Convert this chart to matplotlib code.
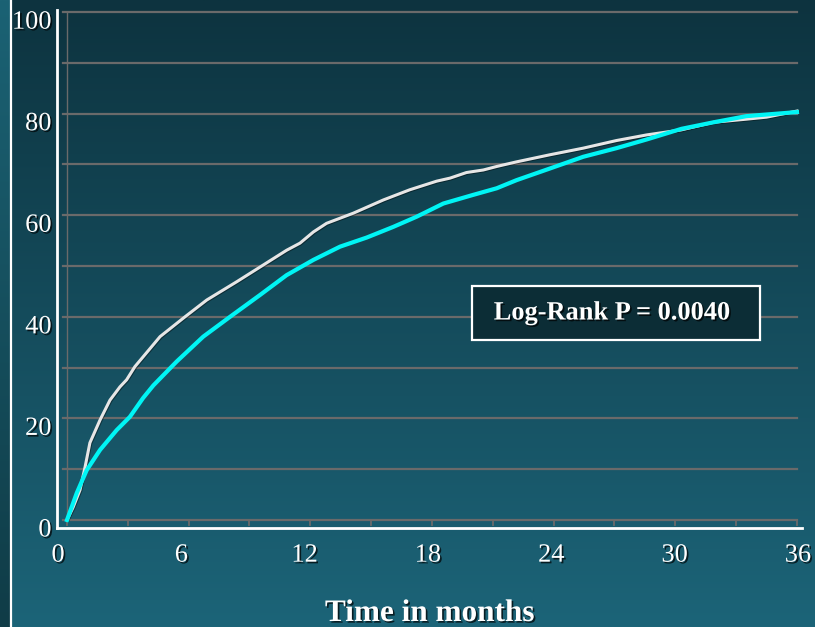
import numpy as np
import matplotlib
matplotlib.use("Agg")
import matplotlib.pyplot as plt
import matplotlib.patheffects as pe
from matplotlib.patches import Rectangle

# ---- data ----
white_t = [0.0, 0.3, 0.64, 0.89, 1.13, 1.63, 2.12, 2.61, 2.94, 3.35, 4.59, 5.82, 6.89, 8.37,
           9.68, 10.83, 11.49, 12.15, 12.8, 14.12, 15.6, 16.9, 18.23, 18.89, 19.7, 20.53,
           21.2, 22.17, 23.82, 25.46, 27.1, 28.58, 30.3, 31.9, 33.5, 34.5, 36.0]
white_y = [0.0, 2.5, 5.9, 10.4, 15.2, 19.7, 23.6, 26.2, 27.6, 30.2, 36.1, 40.0, 43.3, 46.9,
           50.2, 53.1, 54.5, 56.7, 58.4, 60.4, 63.0, 65.0, 66.7, 67.3, 68.4, 68.9,
           69.6, 70.5, 71.9, 73.2, 74.7, 75.8, 76.8, 78.3, 78.9, 79.3, 80.5]

cyan_t = [0.0, 0.48, 0.97, 1.63, 2.45, 3.1, 3.75, 4.26, 5.41, 6.72, 8.04, 9.52, 10.83,
          12.15, 13.46, 14.78, 16.09, 17.24, 18.56, 20.03, 21.19, 22.17, 23.82, 25.46,
          27.1, 28.58, 30.3, 31.9, 33.5, 36.0]
cyan_y = [0.0, 5.3, 9.8, 13.8, 17.7, 20.3, 24.0, 26.5, 31.2, 36.1, 40.0, 44.3, 48.2,
          51.2, 53.8, 55.6, 57.7, 59.7, 62.3, 64.0, 65.3, 66.9, 69.2, 71.5,
          73.2, 74.9, 77.0, 78.3, 79.5, 80.3]

x_ticks = [0, 6, 12, 18, 24, 30, 36]
y_ticks = [0, 20, 40, 60, 80, 100]
x_label = "Time in months"
annot = "Log-Rank P = 0.0040"

W, H = 815, 627
fig = plt.figure(figsize=(W / 100, H / 100), dpi=100)

# ---- background gradient ----
bg = fig.add_axes([0, 0, 1, 1], zorder=-10)
bg.set_axis_off()
top = np.array([0x0d, 0x33, 0x3f]) / 255
bot = np.array([0x1c, 0x64, 0x78]) / 255
g = np.linspace(0, 1, 256)[:, None]
main = top[None, :] * (1 - g) + bot[None, :] * g
img = np.repeat(main[:, None, :], 2, axis=1)
bg.imshow(img, aspect="auto", extent=[0, 1, 0, 1], origin="upper")
strip_top = np.array([0x1b, 0x62, 0x74]) / 255
strip_bot = np.array([0x10, 0x3c, 0x47]) / 255
strip = strip_top[None, :] * (1 - g) + strip_bot[None, :] * g
bg.imshow(np.repeat(strip[:, None, :], 2, axis=1), aspect="auto",
          extent=[0, 10 / W, 0, 1], origin="upper")
bg.set_xlim(0, 1)
bg.set_ylim(0, 1)
bg.axvline(10.5 / W, color="white", lw=1.6)

serif = "Liberation Serif"
shadow = [pe.withSimplePatchShadow(offset=(1.2, -1.2), shadow_rgbFace="black", alpha=0.7)]

# ---- inner plotting axes ----
ax = fig.add_axes([67 / W, (H - 520) / H, 730 / W, 508 / H])
ax.set_facecolor("none")
ax.set_xlim(0, 36)
ax.set_ylim(0, 100)
for s in ax.spines.values():
    s.set_visible(False)
ax.set_xticks([])
ax.set_yticks([])
for yv in range(0, 101, 10):
    ax.plot([-0.2, 36], [yv, yv], color="#6a6a6a", lw=1.6, clip_on=False, zorder=1)
ax.plot([0, 0], [0, 100], color="#6a6a6a", lw=1.0, clip_on=False, zorder=1)
for xv in np.arange(0, 36.01, 3):
    ax.plot([xv, xv], [0, -0.9], color="#6a6a6a", lw=1.3, clip_on=False, zorder=1)

ax.plot(white_t, white_y, color="#e6e6e6", lw=2.2, clip_on=False, zorder=3,
        path_effects=[pe.SimpleLineShadow(offset=(0.6, -0.6), shadow_color="black", alpha=0.4),
                      pe.Normal()])
ax.plot(cyan_t, cyan_y, color="#00f5f5", lw=3.0, clip_on=False, zorder=4)

# ---- outer frame axes with labels ----
ox = fig.add_axes([57 / W, (H - 528) / H, 745 / W, 518 / H], zorder=2)
ox.set_facecolor("none")
ox.set_xlim(-0.05, 36.2)
ox.set_ylim(0, 102)
for k in ["top", "right"]:
    ox.spines[k].set_visible(False)
for k in ["left", "bottom"]:
    ox.spines[k].set_color("white")
    ox.spines[k].set_linewidth(2.0)
ox.set_xticks(x_ticks)
ox.set_yticks(y_ticks)
ox.set_xticklabels([str(v) for v in x_ticks])
ox.set_yticklabels([str(v) for v in y_ticks])
ox.tick_params(axis="both", length=0, colors="white", labelsize=19)
ox.tick_params(axis="x", pad=12)
ox.tick_params(axis="y", pad=4)
for lab in ox.get_xticklabels() + ox.get_yticklabels():
    lab.set_fontfamily(serif)
    lab.set_path_effects(shadow)

fig.text(430 / W, (H - 621) / H, x_label, ha="center", va="baseline",
         fontfamily=serif, fontweight="bold", fontsize=22.5, color="white",
         path_effects=shadow)

# ---- annotation box ----
rect = Rectangle((472 / W, (H - 340) / H), 288 / W, 54 / H, transform=fig.transFigure,
                 facecolor="#0c2d36", edgecolor="white", lw=1.6, zorder=5)
fig.patches.append(rect)
fig.text(612 / W, (H - 313) / H, annot, ha="center", va="center",
         fontfamily=serif, fontweight="bold", fontsize=19, color="white",
         path_effects=shadow, zorder=6)

fig.savefig("out.png", dpi=100)
